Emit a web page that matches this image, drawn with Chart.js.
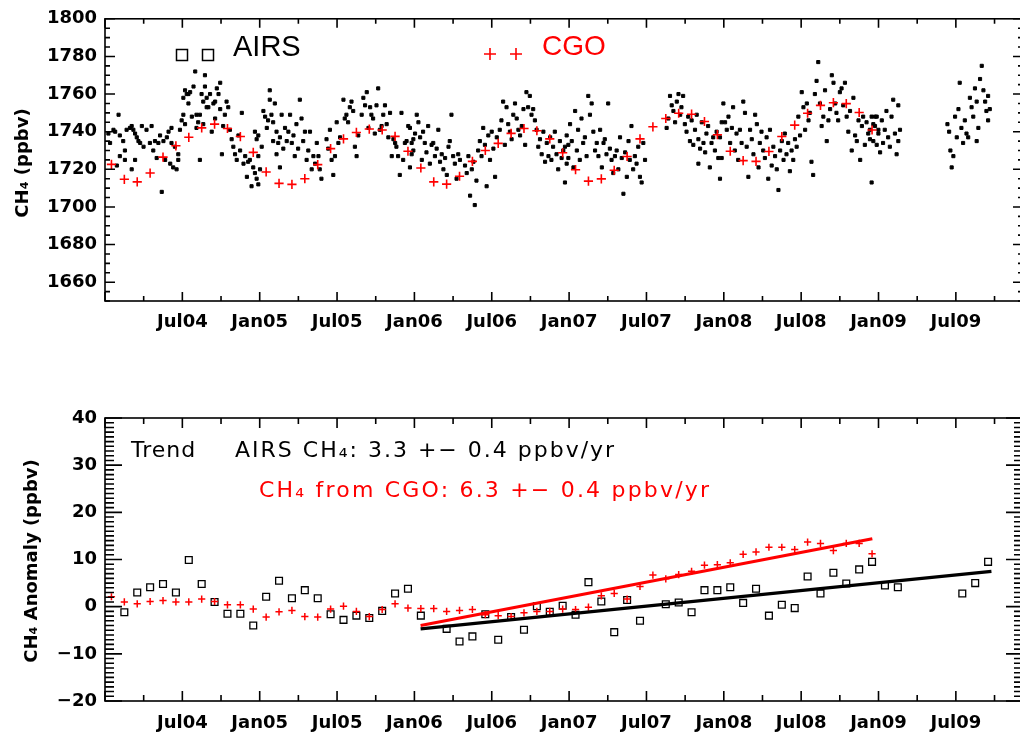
<!DOCTYPE html>
<html>
<head>
<meta charset="utf-8">
<script src="https://cdn.jsdelivr.net/npm/chart.js@4.4.0/dist/chart.umd.min.js"></script>
<style>
  html, body { margin: 0; padding: 0; background: #fff; overflow: hidden; width: 1020px; height: 735px; }
  #top { position: absolute; left: 0; top: 0; }
  #bot { position: absolute; left: 0; top: 360px; }
</style>
</head>
<body>
<canvas id="top" width="1030" height="360"></canvas>
<canvas id="bot" width="1030" height="375"></canvas>
<script>
// axis ticks
const xTickValues = [2004.5, 2005, 2005.5, 2006, 2006.5, 2007, 2007.5, 2008, 2008.5, 2009, 2009.5];
const xTickLabels = ['Jul04', 'Jan05', 'Jul05', 'Jan06', 'Jul06', 'Jan07', 'Jul07', 'Jan08', 'Jul08', 'Jan09', 'Jul09'];
const ch4Ticks = [1660, 1680, 1700, 1720, 1740, 1760, 1780, 1800];
const anomTicks = [-20, -10, 0, 10, 20, 30, 40];

// CGO monthly CH4 (ppbv), Jan..Dec
const cgo2004 = [1722.6, 1714.7, 1713.3, 1718, 1726.5, 1732.5, 1737, 1742, 1744, 1741.7, 1737.4, 1729];
const cgo2005 = [1718.6, 1712.5, 1712, 1715, 1722.5, 1731, 1736.2, 1739.6, 1741.4, 1740.9, 1737.5, 1729.6];
const cgo2006 = [1720.7, 1713.3, 1712.1, 1716.3, 1724.2, 1730, 1733.8, 1739.1, 1741.7, 1740.5, 1736.2, 1728.8];
const cgo2007 = [1719.8, 1713.7, 1714.9, 1719.5, 1726.8, 1736.2, 1742.6, 1747, 1749.8, 1749.3, 1745.4, 1738.4];
const cgo2008 = [1729.6, 1724.6, 1724.2, 1729.5, 1737.4, 1743.5, 1749.8, 1754, 1755.4, 1754.9, 1750.2, 1740.9];

// AIRS daily CH4: [day since 1 Jan 2004, ppbv]
const airs2004 = [[8,1739],[12,1734],[20,1741],[24,1740],[28,1722],[32,1749],[35,1738],[35,1727],[43,1735],[47,1730],[47,1725],[51,1741],[59,1742],[63,1743],[63,1720],[67,1741],[71,1739],[71,1725],[75,1737],[79,1735],[83,1734],[87,1743],[91,1732],[98,1741],[106,1734],[110,1743],[114,1730],[118,1735],[122,1726],[126,1734],[130,1738],[134,1708],[138,1735],[142,1725],[146,1737],[150,1740],[154,1723],[157,1742],[157,1734],[161,1721],[165,1732],[169,1720],[173,1728],[173,1725],[177,1741],[181,1746],[185,1749],[185,1758],[189,1744],[189,1762],[193,1760],[197,1755],[197,1760],[201,1761],[205,1748],[209,1764],[213,1772],[216,1749],[216,1742],[220,1745],[224,1749],[224,1725],[228,1760],[232,1756],[232,1744],[236,1770],[236,1764],[240,1758],[240,1753],[244,1753],[248,1760],[252,1740],[256,1755],[260,1747],[260,1756],[264,1763],[268,1760],[272,1766],[272,1752],[276,1728],[279,1743],[283,1749],[287,1756],[291,1753],[295,1741],[299,1736],[303,1732],[307,1728],[311,1725],[315,1738],[319,1730],[323,1750],[327,1723],[331,1727],[335,1716],[338,1724],[342,1725],[346,1711],[350,1721],[354,1718],[354,1740],[358,1715],[358,1736],[362,1727],[362,1738],[362,1712]];
const airs2005 = [[366,1720],[370,1732],[374,1751],[378,1748],[382,1742],[385,1746],[389,1762],[389,1757],[393,1749],[397,1745],[397,1735],[401,1755],[405,1740],[405,1728],[409,1734],[413,1737],[413,1721],[417,1749],[421,1731],[425,1742],[429,1735],[433,1740],[437,1749],[441,1734],[445,1738],[448,1727],[452,1744],[456,1731],[460,1757],[464,1747],[468,1735],[472,1740],[476,1725],[480,1730],[484,1740],[488,1720],[492,1727],[496,1723],[500,1734],[504,1727],[507,1720],[511,1715],[523,1736],[527,1731],[531,1741],[535,1725],[539,1717],[543,1727],[547,1745],[551,1734],[555,1737],[563,1757],[566,1747],[570,1749],[574,1745],[578,1753],[582,1756],[586,1751],[590,1732],[594,1727],[598,1738],[606,1749],[610,1758],[614,1754],[618,1761],[622,1742],[626,1753],[629,1749],[633,1747],[637,1739],[641,1754],[645,1763],[649,1741],[653,1743],[657,1749],[661,1754],[665,1744],[669,1737],[673,1750],[677,1727],[681,1736],[685,1734],[688,1732],[692,1727],[696,1717],[700,1750],[704,1725],[708,1734],[712,1735],[716,1743],[720,1721],[720,1742],[724,1728],[724,1734],[728,1736],[728,1730]];
const airs2006 = [[732,1739],[736,1749],[740,1745],[744,1737],[748,1725],[751,1740],[755,1734],[759,1729],[763,1743],[767,1723],[771,1733],[775,1734],[779,1727],[783,1731],[787,1741],[791,1724],[795,1728],[799,1720],[803,1726],[807,1717],[811,1732],[814,1735],[818,1749],[822,1727],[826,1723],[830,1715],[834,1728],[838,1725],[850,1722],[854,1718],[858,1727],[862,1706],[866,1720],[870,1724],[873,1701],[877,1714],[881,1730],[885,1735],[889,1727],[893,1742],[897,1733],[901,1711],[905,1738],[909,1725],[913,1740],[917,1731],[921,1716],[925,1737],[932,1741],[936,1746],[940,1756],[944,1733],[948,1753],[952,1744],[956,1740],[960,1736],[964,1749],[968,1755],[972,1747],[976,1741],[980,1738],[984,1743],[988,1752],[992,1733],[995,1761],[999,1753],[1003,1759],[1007,1749],[1011,1752],[1015,1746],[1019,1741],[1023,1732],[1027,1736],[1031,1728],[1035,1740],[1039,1724],[1043,1734],[1047,1727],[1051,1737],[1054,1725],[1058,1732],[1062,1740],[1066,1728],[1070,1720],[1074,1735],[1078,1726],[1082,1730],[1086,1713],[1086,1732],[1090,1723],[1090,1738],[1094,1733],[1094,1726]];
const airs2007 = [[1098,1744],[1102,1735],[1106,1721],[1110,1751],[1114,1730],[1117,1741],[1121,1725],[1125,1747],[1129,1734],[1133,1737],[1137,1727],[1141,1759],[1145,1749],[1149,1755],[1153,1740],[1157,1730],[1161,1734],[1165,1727],[1169,1741],[1173,1721],[1177,1734],[1180,1736],[1184,1728],[1188,1755],[1192,1731],[1196,1725],[1200,1718],[1204,1727],[1208,1730],[1212,1720],[1216,1737],[1220,1726],[1224,1707],[1228,1729],[1232,1716],[1236,1735],[1239,1725],[1243,1743],[1247,1720],[1251,1727],[1255,1723],[1259,1732],[1263,1716],[1267,1713],[1271,1734],[1275,1725],[1326,1742],[1330,1747],[1334,1759],[1338,1754],[1342,1751],[1346,1745],[1350,1756],[1354,1760],[1358,1749],[1361,1753],[1365,1759],[1369,1744],[1373,1740],[1377,1748],[1381,1735],[1385,1746],[1389,1733],[1393,1741],[1397,1749],[1401,1736],[1401,1723],[1405,1731],[1409,1745],[1413,1734],[1417,1729],[1420,1739],[1424,1743],[1428,1721],[1432,1734],[1436,1737],[1440,1730],[1444,1740],[1448,1726],[1452,1715],[1452,1737],[1456,1745],[1456,1726],[1460,1755]];
const airs2008 = [[1464,1745],[1468,1741],[1472,1748],[1476,1734],[1480,1742],[1483,1753],[1487,1730],[1491,1739],[1495,1725],[1499,1741],[1503,1734],[1507,1756],[1511,1750],[1515,1732],[1519,1716],[1523,1741],[1527,1736],[1531,1728],[1535,1749],[1539,1744],[1543,1721],[1546,1734],[1550,1740],[1554,1730],[1558,1726],[1562,1737],[1566,1715],[1570,1741],[1574,1722],[1578,1732],[1582,1727],[1586,1720],[1590,1709],[1594,1730],[1598,1735],[1602,1725],[1605,1739],[1609,1728],[1613,1734],[1617,1719],[1621,1730],[1625,1725],[1629,1736],[1633,1732],[1637,1748],[1641,1738],[1645,1761],[1649,1753],[1653,1741],[1657,1755],[1661,1746],[1664,1750],[1668,1724],[1672,1717],[1676,1760],[1680,1767],[1684,1777],[1688,1755],[1692,1743],[1696,1748],[1700,1762],[1704,1735],[1708,1746],[1712,1752],[1716,1770],[1720,1766],[1724,1755],[1727,1750],[1731,1746],[1735,1761],[1739,1763],[1743,1754],[1747,1766],[1751,1748],[1755,1740],[1759,1751],[1763,1730],[1767,1758],[1771,1738],[1775,1735],[1779,1746],[1783,1725],[1787,1743],[1790,1748],[1794,1733],[1798,1745],[1802,1739],[1806,1736],[1806,1741],[1810,1713],[1810,1748],[1814,1744],[1814,1735],[1818,1748],[1818,1743],[1822,1733],[1822,1748],[1826,1741],[1826,1739]];
const airs2009 = [[1830,1729],[1834,1746],[1837,1734],[1841,1741],[1845,1751],[1849,1737],[1853,1732],[1857,1748],[1861,1757],[1865,1739],[1869,1728],[1873,1754],[1873,1735],[1877,1741],[1989,1744],[1993,1740],[1996,1730],[1999,1721],[2003,1727],[2007,1748],[2011,1737],[2015,1752],[2018,1766],[2022,1742],[2026,1734],[2030,1746],[2034,1739],[2038,1737],[2042,1758],[2046,1753],[2050,1748],[2054,1763],[2058,1756],[2058,1735],[2062,1742],[2066,1768],[2070,1775],[2074,1762],[2078,1756],[2081,1751],[2085,1759],[2085,1746],[2089,1752]];

// monthly anomalies (ppbv), Jan..Dec, null = no value
const airsAnom2004 = [null, -1.2, 3.0, 4.1, 4.8, 3.0, 9.9, 4.8, 1.0, -1.5, -1.5, -4.0];
const airsAnom2005 = [2.1, 5.5, 1.8, 3.5, 1.8, -1.6, -2.8, -1.9, -2.4, -0.9, 2.8, 3.8];
const airsAnom2006 = [-1.9, null, -4.7, -7.4, -6.3, -1.6, -7.0, -2.2, -4.9, 0.1, -1.1, 0.2];
const airsAnom2007 = [-1.7, 5.2, 1.1, -5.4, 1.4, -3.0, null, 0.5, 0.9, -1.2, 3.5, 3.5];
const airsAnom2008 = [4.1, 0.8, 3.8, -1.9, 0.4, -0.3, 6.4, 2.8, 7.2, 4.9, 7.9, 9.5];
const airsAnom2009 = [4.5, 4.1, null, null, null, null, 2.8, 5.0, 9.5];
const cgoAnom2004 = [2.1, 1.0, 0.6, 1.1, 1.3, 1.0, 1.0, 1.6, 1.1, 0.4, 0.4, -0.5];
const cgoAnom2005 = [-2.2, -1.1, -0.8, -2.1, -2.2, -0.5, 0.1, -1.0, -2.1, -0.6, 0.6, -0.3];
const cgoAnom2006 = [-0.4, -0.4, -1.0, -0.8, -0.6, -1.7, -1.9, -2.1, -1.3, -1.0, -1.0, -0.5];
const cgoAnom2007 = [-0.6, -0.1, 2.3, 2.8, 1.6, 4.3, 6.7, 5.9, 6.8, 7.5, 8.8, 8.9];
const cgoAnom2008 = [9.3, 11.1, 11.6, 12.6, 12.6, 12.1, 13.7, 13.4, 11.9, 13.4, 13.4, 11.2];

// trend line ends [year, ppbv]
const airsTrend = [[2006.04, -4.7], [2009.73, 7.5]];
const cgoTrend = [[2006.04, -4.0], [2008.96, 14.4]];

function monthly(year, vals) {
  return vals.map((v, i) => v === null ? null : { x: year + (i + 0.5) / 12, y: v }).filter(p => p);
}
function daily(pairs) {
  return pairs.map(p => ({ x: 2004 + p[0] / 365.25, y: p[1] }));
}
function ends(arr) { return arr.map(p => ({ x: p[0], y: p[1] })); }

const tickFont = { family: 'DejaVu Sans', size: 18, weight: 'bold' };

// box, inward tick marks, texts
const framePlugin = {
  id: 'frame',
  afterDatasetsDraw(chart, args, o) {
    const { ctx, chartArea: a, scales: { x, y } } = chart;
    ctx.save();
    ctx.strokeStyle = '#000';
    ctx.lineWidth = 1.6;
    ctx.strokeRect(a.left, a.top, a.right - a.left, a.bottom - a.top);
    ctx.beginPath();
    for (let t = 2004; t <= 2009.8; t += 0.25) {
      const px = x.getPixelForValue(t);
      const len = Math.abs(t * 2 - Math.round(t * 2)) < 1e-6 ? o.xMajor : o.xMinor;
      ctx.moveTo(px, a.bottom); ctx.lineTo(px, a.bottom - len);
      ctx.moveTo(px, a.top); ctx.lineTo(px, a.top + len);
    }
    for (let v = o.yFrom; v <= o.yTo + 1e-6; v += o.yStep) {
      const py = y.getPixelForValue(v);
      const r = v / o.yEvery;
      const len = Math.abs(r - Math.round(r)) < 1e-6 ? o.yMajor : o.yMinor;
      ctx.moveTo(a.left, py); ctx.lineTo(a.left + len, py);
      ctx.moveTo(a.right, py); ctx.lineTo(a.right - len, py);
    }
    ctx.stroke();

    (o.squares || []).forEach(s => {
      ctx.lineWidth = 1.5; ctx.strokeStyle = '#000';
      ctx.strokeRect(s[0] - 5.5, s[1] - 5.5, 11, 11);
    });
    (o.crosses || []).forEach(c => {
      ctx.lineWidth = 1.6; ctx.strokeStyle = '#ff0000';
      ctx.beginPath();
      ctx.moveTo(c[0] - 6, c[1]); ctx.lineTo(c[0] + 6, c[1]);
      ctx.moveTo(c[0], c[1] - 6); ctx.lineTo(c[0], c[1] + 6);
      ctx.stroke();
    });
    (o.notes || []).forEach(n => {
      ctx.font = n.font; ctx.fillStyle = n.color;
      ctx.letterSpacing = n.ls || '0px';
      ctx.textAlign = 'left'; ctx.textBaseline = 'alphabetic';
      ctx.fillText(n.text, n.x, n.y);
    });
    ctx.letterSpacing = '0px';
    if (o.title) {
      ctx.translate(o.title.x, o.title.y);
      ctx.rotate(-Math.PI / 2);
      ctx.font = 'bold 18px "DejaVu Sans"';
      ctx.fillStyle = '#000';
      ctx.textAlign = 'center'; ctx.textBaseline = 'middle';
      ctx.fillText(o.title.text, 0, 0);
    }
    ctx.restore();
  }
};

function makeOptions(yMin, yMax, yTicks, padTop, xHeight, xPad, frame) {
  return {
    responsive: false, animation: false, devicePixelRatio: 1,
    layout: { padding: { left: 0, right: 7, top: padTop, bottom: 0 } },
    plugins: { legend: { display: false }, tooltip: { enabled: false }, frame: frame },
    scales: {
      x: {
        type: 'linear', min: 2004, max: 2009.934,
        grid: { display: false, drawTicks: false }, border: { display: false },
        afterBuildTicks: s => { s.ticks = xTickValues.map(v => ({ value: v })); },
        afterFit: s => { s.height = xHeight; },
        ticks: { autoSkip: false, maxRotation: 0, padding: xPad, color: '#000', font: tickFont,
          callback: (v, i) => xTickLabels[i] }
      },
      y: {
        type: 'linear', min: yMin, max: yMax,
        grid: { display: false, drawTicks: false }, border: { display: false },
        afterBuildTicks: s => { s.ticks = yTicks.map(v => ({ value: v })); },
        afterFit: s => { s.width = 105; },
        ticks: { padding: 8, color: '#000', font: tickFont,
          callback: v => v < 0 ? '\u2212' + Math.abs(v) : String(v) }
      }
    }
  };
}

new Chart(document.getElementById('top'), {
  type: 'scatter',
  data: {
    datasets: [
      { data: [].concat(monthly(2004, cgo2004), monthly(2005, cgo2005), monthly(2006, cgo2006), monthly(2007, cgo2007), monthly(2008, cgo2008)),
        pointStyle: 'cross', pointRadius: 4.6, borderColor: '#ff0000', borderWidth: 1.6 },
      { data: [].concat(daily(airs2004), daily(airs2005), daily(airs2006), daily(airs2007), daily(airs2008), daily(airs2009)),
        pointStyle: 'rect', pointRadius: 2.2, backgroundColor: '#000', borderColor: '#000', borderWidth: 1 }
    ]
  },
  options: makeOptions(1650, 1800, ch4Ticks, 16, 59, 11, {
    xMajor: 9, xMinor: 5, yFrom: 1650, yTo: 1800, yStep: 5, yEvery: 20, yMajor: 10, yMinor: 5,
    squares: [[182, 55], [208, 55]],
    crosses: [[490, 54], [516, 54]],
    notes: [
      { text: 'AIRS', x: 233, y: 56, font: '29px "Liberation Sans"', color: '#000' },
      { text: 'CGO', x: 542, y: 55, font: '28px "Liberation Sans"', color: '#ff0000' }
    ],
    title: { text: 'CH\u2084 (ppbv)', x: 23, y: 163 }
  }),
  plugins: [framePlugin]
});

new Chart(document.getElementById('bot'), {
  type: 'scatter',
  data: {
    datasets: [
      { type: 'line', data: ends(cgoTrend), borderColor: '#ff0000', borderWidth: 3.2, pointRadius: 0, showLine: true },
      { type: 'line', data: ends(airsTrend), borderColor: '#000', borderWidth: 3.2, pointRadius: 0, showLine: true },
      { data: [].concat(monthly(2004, cgoAnom2004), monthly(2005, cgoAnom2005), monthly(2006, cgoAnom2006), monthly(2007, cgoAnom2007), monthly(2008, cgoAnom2008)),
        pointStyle: 'cross', pointRadius: 3.6, borderColor: '#ff0000', borderWidth: 1.5 },
      { data: [].concat(monthly(2004, airsAnom2004), monthly(2005, airsAnom2005), monthly(2006, airsAnom2006), monthly(2007, airsAnom2007), monthly(2008, airsAnom2008), monthly(2009, airsAnom2009)),
        pointStyle: 'rect', pointRadius: 4.8, backgroundColor: 'rgba(0,0,0,0)', borderColor: '#000', borderWidth: 1.3 }
    ]
  },
  options: makeOptions(-20, 40, anomTicks, 58, 34, 12, {
    xMajor: 10, xMinor: 6, yFrom: -20, yTo: 40, yStep: 1, yEvery: 10, yMajor: 17, yMinor: 9,
    notes: [
      { text: 'Trend', x: 131, y: 97, font: '22px "DejaVu Sans"', color: '#000', ls: '1px' },
      { text: 'AIRS CH\u2084: 3.3 +\u2212 0.4 ppbv/yr', x: 235, y: 97, font: '22px "DejaVu Sans"', color: '#000', ls: '2px' },
      { text: 'CH\u2084 from CGO: 6.3 +\u2212 0.4 ppbv/yr', x: 259, y: 137, font: '22px "DejaVu Sans"', color: '#ff0000', ls: '2.2px' }
    ],
    title: { text: 'CH\u2084 Anomaly (ppbv)', x: 32, y: 201 }
  }),
  plugins: [framePlugin]
});
</script>
</body>
</html>
